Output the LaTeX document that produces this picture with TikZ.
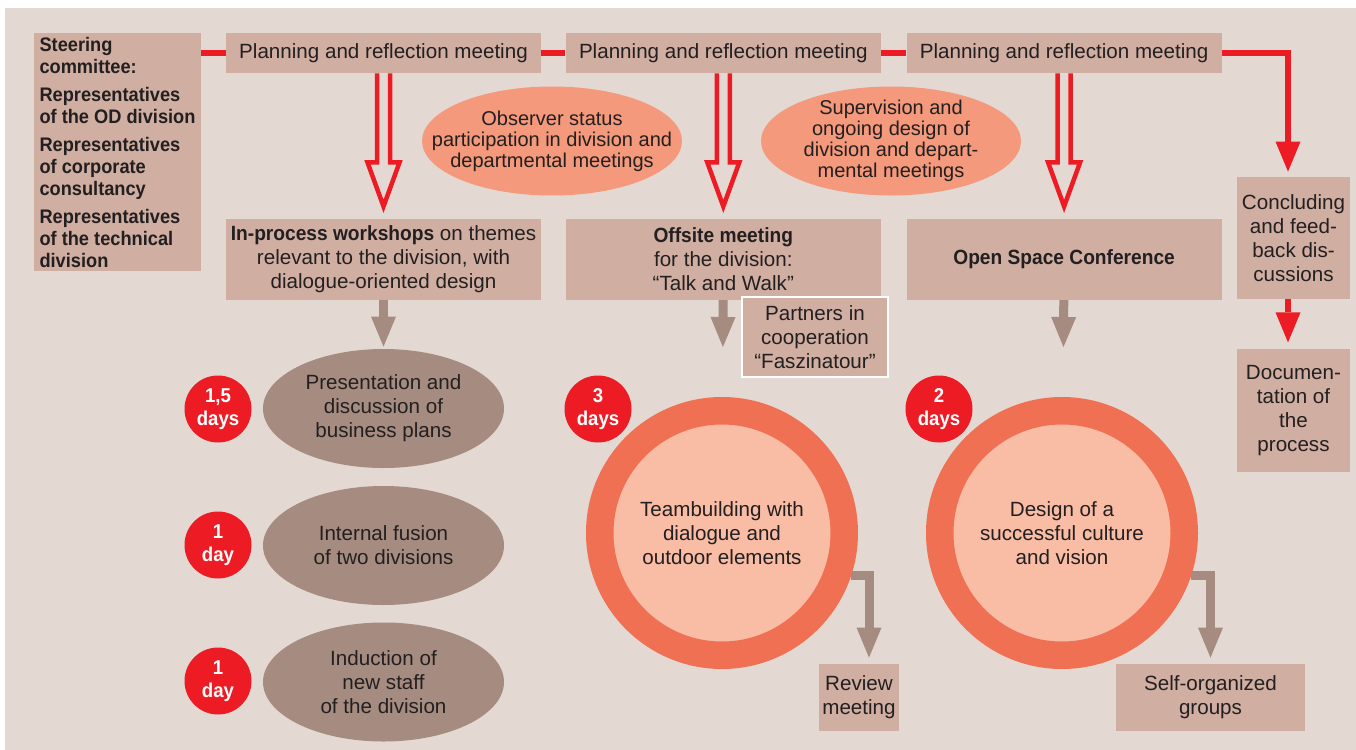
\documentclass[tikz,border=0pt]{standalone}
\usepackage{fontspec}
\setmainfont{Liberation Sans}[BoldFeatures={FakeStretch=0.93}]
\usepackage{tikz}
\usetikzlibrary{arrows.meta}
\usetikzlibrary{shapes.geometric,positioning}
\hyphenpenalty=10000
\definecolor{panel}{RGB}{228,216,210}
\definecolor{boxtan}{RGB}{208,174,162}
\definecolor{signal}{RGB}{237,28,36}
\definecolor{salmon}{RGB}{244,153,123}
\definecolor{taupe}{RGB}{166,140,128}
\definecolor{ringouter}{RGB}{240,112,83}
\definecolor{ringinner}{RGB}{249,189,166}
\definecolor{ink}{RGB}{35,31,32}
\tikzset{>={Triangle[width=12.5pt,length=15pt,line width=0pt]},
  box/.style={fill=boxtan, text=ink, inner sep=0pt, align=center},
  plan/.style={box, minimum width=157.5pt, minimum height=20pt},
  stage/.style={box, minimum width=157.5pt, minimum height=40.5pt},
  talk/.style={ellipse, fill=salmon, text=ink, inner xsep=-16pt, inner ysep=-4pt,
    minimum width=130pt, minimum height=54.5pt, align=center,
    font=\fontsize{10}{10.5}\selectfont},
  module/.style={ellipse, fill=taupe, text=ink, inner sep=0pt,
    minimum width=120.5pt, minimum height=59.5pt, align=center},
  badge/.style={circle, fill=signal, text=white, inner sep=0pt, minimum size=33.5pt,
    align=center, font=\bfseries\fontsize{10}{11.5}\selectfont},
  ring/.style={circle, draw=ringouter, line width=13.75pt, fill=ringinner, text=ink,
    minimum size=122.25pt, inner sep=0pt, outer sep=6.875pt, align=center},
  redline/.style={signal, line width=3.4pt},
  hollow/.style={draw=signal, line width=2.25pt, line join=miter},
  brownarrow/.style={taupe, line width=4.5pt, ->}
}
% open red arrow from a meeting down to the next stage
\newcommand{\hollowarrow}[2]{%
  \draw[hollow] ([xshift=-3.25pt]#1.south) -- ([xshift=-3.25pt,yshift=28pt]#2.north)
    -- ([xshift=-8pt,yshift=28pt]#2.north) -- ([yshift=6pt]#2.north)
    -- ([xshift=8pt,yshift=28pt]#2.north) -- ([xshift=3.25pt,yshift=28pt]#2.north)
    -- ([xshift=3.25pt]#1.south);}

\begin{document}
\begin{tikzpicture}[x=0.5pt, y=-0.5pt, font=\fontsize{10.3}{12}\selectfont]
    \fill[white] (0,0) rectangle (1356,750);
    \fill[panel] (5,8) rectangle (1356,750);

    % top row
    \node[box, minimum width=83.5pt, minimum height=119pt, align=left,
      font=\bfseries\fontsize{9.8}{11}\selectfont] (steer) at (117.5,152)
      {Steering\\committee:\\[3pt]Representatives\\of the OD division\\[3pt]
       Representatives\\of corporate\\consultancy\\[3pt]Representatives\\of the technical\\division};
    \node[plan] (plan1) at (383.5,53) {Planning and reflection meeting};
    \node[plan, right=12pt of plan1] (plan2) {Planning and reflection meeting};
    \node[plan, right=12.5pt of plan2] (plan3) {Planning and reflection meeting};

    \node[talk] (observer) at (552,141) {Observer status\\participation in division and\\departmental meetings};
    \node[talk] (supervision) at (891,141) {Supervision and\\ongoing design of\\division and depart-\\mental meetings};

    % stages
    \node[stage, below=72.5pt of plan1] (work) {\textbf{In-process workshops} on themes\\relevant to the division, with\\dialogue-oriented design};
    \node[stage, below=72.5pt of plan2] (offsite) {\textbf{Offsite meeting}\\for the division:\\“Talk and Walk”};
    \node[stage, below=72.5pt of plan3] (openspace) {\textbf{Open Space Conference}};
    \node[box, minimum width=56.5pt, minimum height=61pt] (concl) at (1293.5,238) {Concluding\\and feed-\\back dis-\\cussions};
    \node[box, minimum width=56.5pt, minimum height=61.5pt, below=24.5pt of concl] (doc) {Documen-\\tation of\\the\\process};
    \node[box, draw=white, line width=1pt, minimum width=73pt, minimum height=40pt] (partners) at (815,337) {Partners in\\cooperation\\“Faszinatour”};

    % workshops
    \node[module] (plans) at (383.5,408.5) {Presentation and\\discussion of\\business plans};
    \node[module] (fusion) at (383.5,545.5) {Internal fusion\\of two divisions};
    \node[module] (induction) at (383.5,682) {Induction of\\new staff\\of the division};
    \node[badge] (d1) at (218,409) {1,5\\days};
    \node[badge] (d2) at (218,545) {1\\day};
    \node[badge] (d3) at (218,681) {1\\day};

    % offsite and open space
    \node[ring] (team) at (722,533) {Teambuilding with\\dialogue and\\outdoor elements};
    \node[ring] (culture) at (1062,533) {Design of a\\successful culture\\and vision};
    \node[badge] (d4) at (598,409) {3\\days};
    \node[badge] (d5) at (939,409) {2\\days};
    \node[box, minimum width=40pt, minimum height=33.5pt] (review) at (859,697.5) {Review\\meeting};
    \node[box, minimum width=94.5pt, minimum height=33.5pt] (selforg) at (1210.5,697.5) {Self-organized\\groups};

    % red process line
    \draw[redline] (steer.east |- plan1) -- (plan1);
    \path[redline] (plan1) edge (plan2)
                   (plan2) edge (plan3);
    \draw[redline, ->, shorten >=2.5pt] (plan3) -| ([xshift=-2.75pt]concl.north);
    \draw[redline, ->, shorten >=3pt] ([xshift=-2.75pt]concl.south) -- ([xshift=-2.75pt]doc.north);

    \hollowarrow{plan1}{work}
    \hollowarrow{plan2}{offsite}
    \hollowarrow{plan3}{openspace}

    \path[brownarrow, shorten >=1pt] (work) edge (plans);
    \path[brownarrow, shorten >=25pt] (offsite) edge (team);
    \path[brownarrow, shorten >=25pt] (openspace) edge (culture);
    \draw[brownarrow, shorten >=3pt] (team.-18) -| ([xshift=5pt]review.north);
    \draw[brownarrow, shorten >=3pt] (culture.-18) -| (selforg.north);
\end{tikzpicture}
\end{document}
